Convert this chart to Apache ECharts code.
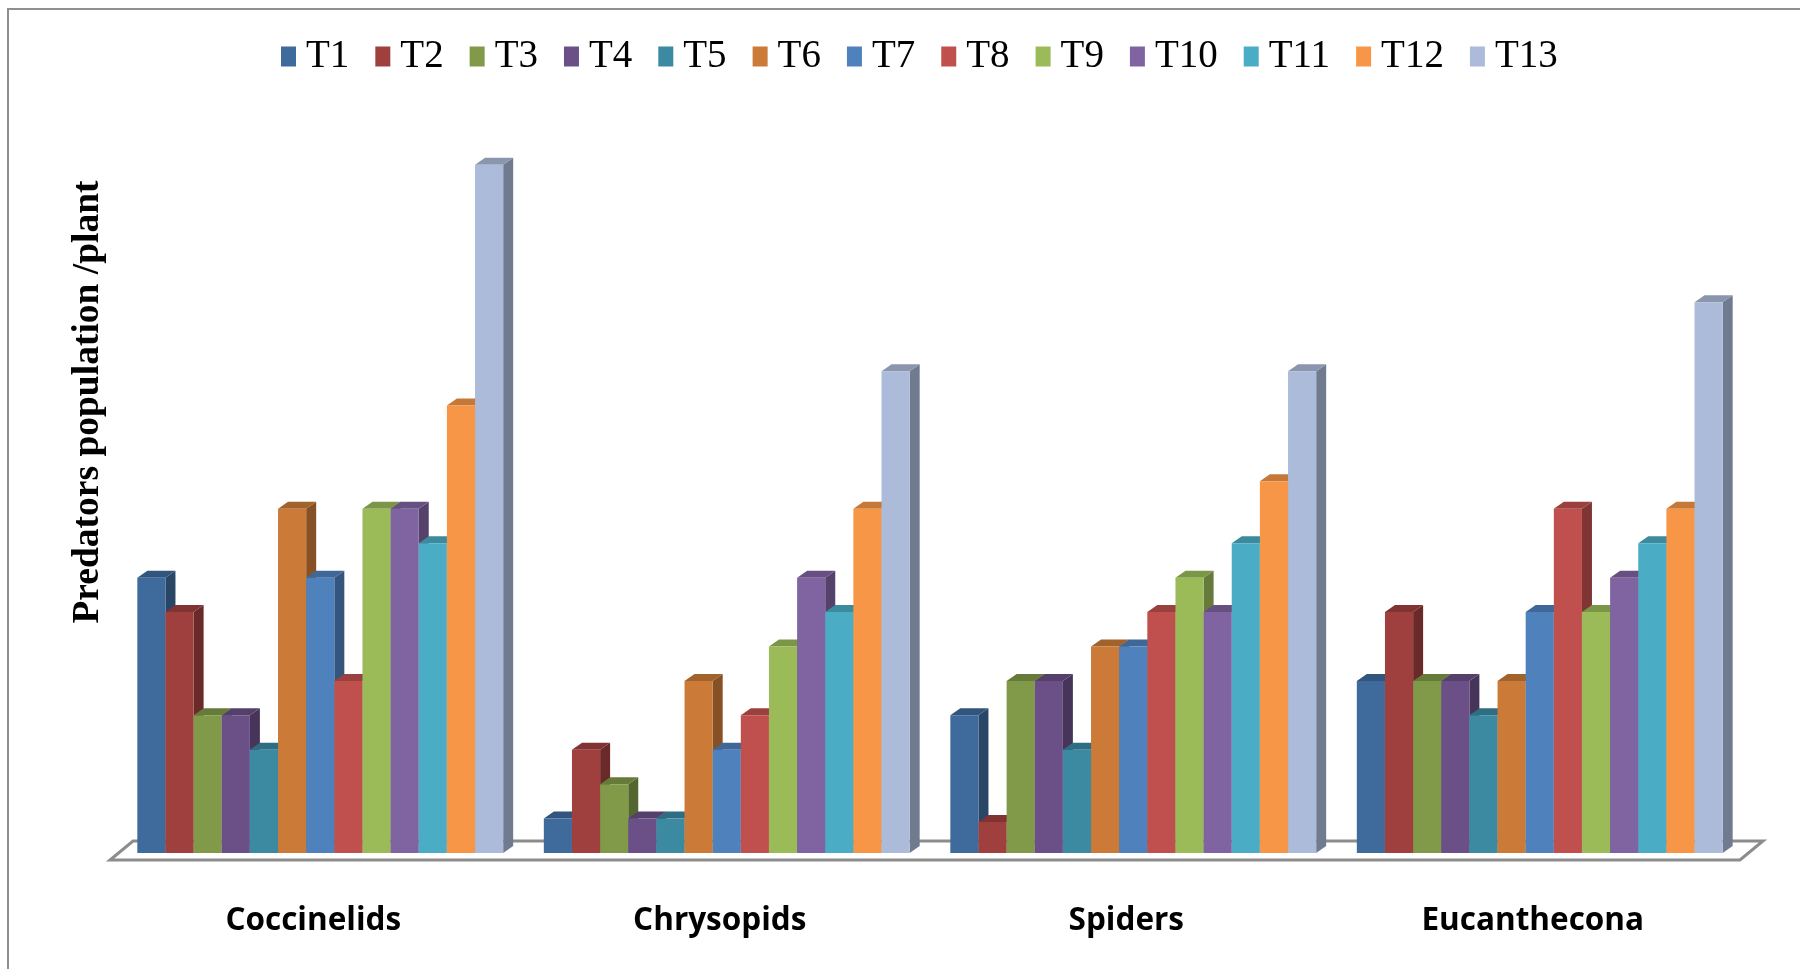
<!DOCTYPE html>
<html>
<head>
<meta charset="utf-8">
<title>Predators population per plant</title>
<script src="https://cdn.jsdelivr.net/npm/echarts@6/dist/echarts.min.js"></script>
<style>
  html, body { margin: 0; padding: 0; background: #ffffff; }
  #chart { width: 1800px; height: 969px; }
</style>
</head>
<body>
<div id="chart"></div>
<script>
// Predator groups on the x axis
const categories = ['Coccinelids', 'Chrysopids', 'Spiders', 'Eucanthecona'];

// Treatments T1..T13
const treatments = ['T1', 'T2', 'T3', 'T4', 'T5', 'T6', 'T7', 'T8', 'T9', 'T10', 'T11', 'T12', 'T13'];

// Predators population per plant, one value per treatment (T1..T13)
const coccinelids  = [8, 7, 4, 4, 3, 10, 8, 5, 10, 10, 9, 13, 20];
const chrysopids   = [1, 3, 2, 1, 1, 5, 3, 4, 6, 8, 7, 10, 14];
const spiders      = [4, 0.9, 5, 5, 3, 6, 6, 7, 8, 7, 9, 10.8, 14];
const eucanthecona = [5, 7, 5, 5, 4, 5, 7, 10, 7, 8, 9, 10, 16];

const groups = [coccinelids, chrysopids, spiders, eucanthecona];

// Front-face colours per treatment
const colors = ['#3f6a9c', '#a0403e', '#809a49', '#6a5087', '#3b8aa2', '#cb7a37',
                '#4f81bd', '#c0504d', '#9bbb59', '#8064a2', '#4bacc6', '#f79646', '#abbbd9'];

// 3D extrusion offset of each bar (pixels)
const DX = 10, DY = 7;
const GROUP_RATIO = 0.9;

function shade(hex, k) {
  const n = parseInt(hex.slice(1), 16);
  const r = Math.round(((n >> 16) & 255) * k);
  const g = Math.round(((n >> 8) & 255) * k);
  const b = Math.round((n & 255) * k);
  return 'rgb(' + r + ',' + g + ',' + b + ')';
}

function makeRenderer(idx, total) {
  return function (params, api) {
    const ci = api.value(0);
    const v = api.value(1);
    const base = api.coord([ci, 0]);
    const top = api.coord([ci, v]);
    const band = api.size([1, 0])[0];
    const groupW = band * GROUP_RATIO;
    const barW = groupW / total;
    const x0 = base[0] - groupW / 2 + idx * barW;
    const x1 = x0 + barW;
    const yb = base[1], yt = top[1];
    const c = colors[idx];
    return {
      type: 'group',
      children: [
        { type: 'polygon',
          shape: { points: [[x1, yb], [x1 + DX, yb - DY], [x1 + DX, yt - DY], [x1, yt]] },
          style: { fill: shade(c, 0.66) } },
        { type: 'polygon',
          shape: { points: [[x0, yt], [x0 + DX, yt - DY], [x1 + DX, yt - DY], [x1, yt]] },
          style: { fill: shade(c, 0.8) } },
        { type: 'rect',
          shape: { x: x0, y: yt, width: barW, height: yb - yt },
          style: { fill: c } }
      ]
    };
  };
}

const series = treatments.map(function (name, i) {
  return {
    name: name,
    type: 'custom',
    renderItem: makeRenderer(i, treatments.length),
    itemStyle: { color: colors[i] },
    encode: { x: 0, y: 1 },
    data: categories.map(function (cat, ci) { return [ci, groups[ci][i]]; }),
    z: 3
  };
});

const chart = echarts.init(document.getElementById('chart'), null, { renderer: 'canvas' });

chart.setOption({
  backgroundColor: '#ffffff',
  animation: false,
  legend: {
    data: treatments,
    left: 276,
    top: 32,
    icon: 'rect',
    itemWidth: 15,
    itemHeight: 20,
    itemGap: 26,
    textStyle: {
      fontFamily: 'Liberation Serif',
      fontSize: 39,
      color: '#000000',
      padding: [0, 0, 0, 5]
    }
  },
  grid: { left: 117, right: 57, top: 27, bottom: 116 },
  xAxis: {
    type: 'category',
    data: categories,
    axisLine: { show: false },
    axisTick: { show: false },
    axisLabel: {
      margin: 52,
      fontFamily: 'Open Sans',
      fontWeight: 'bold',
      fontSize: 31.5,
      lineHeight: 32,
      color: '#000000',
      padding: [0, 14, 0, 0]
    }
  },
  yAxis: {
    type: 'value',
    min: 0,
    max: 24,
    show: false,
    splitLine: { show: false }
  },
  graphic: [
    // outer chart border
    { type: 'rect', z: 0,
      shape: { x: 8, y: 9, width: 1820, height: 1000 },
      style: { fill: 'none', stroke: '#8f8f8f', lineWidth: 2 } },
    // floor slab under the bars
    { type: 'polygon', z: 1,
      shape: { points: [[110, 860], [1740, 860], [1763, 841], [133, 841]] },
      style: { fill: '#ffffff', stroke: '#8c8c8c', lineWidth: 3 } },
    // value axis title
    { type: 'text', z: 5,
      x: 88, y: 402, rotation: Math.PI / 2,
      style: {
        text: 'Predators population /plant',
        fontFamily: 'Liberation Serif',
        fontWeight: 'bold',
        fontSize: 37.5,
        fill: '#000000',
        align: 'center',
        verticalAlign: 'middle'
      } }
  ],
  series: series
});
</script>
</body>
</html>
